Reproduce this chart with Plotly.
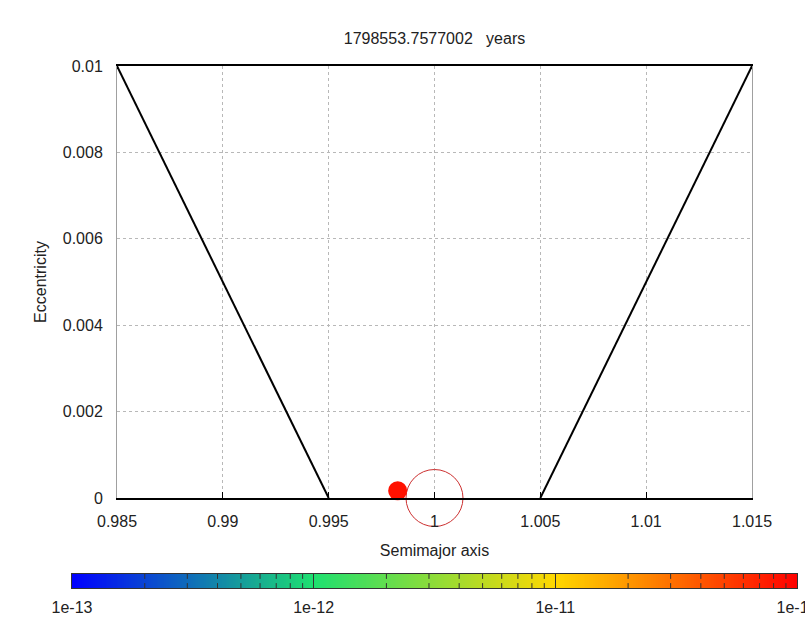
import numpy as np
import plotly.graph_objects as go

# ---- data ----
title_text = "1798553.7577002   years"
boundary_left_a = [0.985, 0.995]
boundary_left_e = [0.01, 0.0]
boundary_right_a = [1.005, 1.015]
boundary_right_e = [0.0, 0.01]
planet_a = [1.0]
planet_e = [0.0]
particle_a = [0.99826]
particle_e = [0.00017]
particle_logval = [-10.08]

x_ticks = [0.985, 0.99, 0.995, 1.0, 1.005, 1.01, 1.015]
x_ticktext = ["0.985", "0.99", "0.995", "1", "1.005", "1.01", "1.015"]
y_ticks = [0, 0.002, 0.004, 0.006, 0.008, 0.01]
y_ticktext = ["0", "0.002", "0.004", "0.006", "0.008", "0.01"]

cb_min, cb_max = -13, -10
cb_major = [-13, -12, -11, -10]
cb_labels = ["1e-13", "1e-12", "1e-11", "1e-10"]
cb_minor = [float(np.log10(k) + n) for n in (-13, -12, -11) for k in range(2, 10)]
colorscale = [[0.0, "#0000ff"], [1/3, "#1ee070"], [2/3, "#ffd800"], [1.0, "#ff0000"]]

gradient = np.linspace(cb_min, cb_max, 400)

FONT = "Liberation Sans, Arial, sans-serif"

fig = go.Figure()

for xa, ye in ((boundary_left_a, boundary_left_e), (boundary_right_a, boundary_right_e)):
    fig.add_trace(go.Scatter(x=xa, y=ye, mode="lines",
                             line=dict(color="black", width=2),
                             showlegend=False, hoverinfo="skip", cliponaxis=False))

fig.add_trace(go.Scatter(x=planet_a, y=planet_e, mode="markers",
                         marker=dict(symbol="circle-open", size=57,
                                     line=dict(color="#cc3030", width=1), color="#cc3030"),
                         showlegend=False, cliponaxis=False))

fig.add_trace(go.Scatter(x=particle_a, y=particle_e, mode="markers",
                         marker=dict(size=19, color=particle_logval, colorscale=colorscale,
                                     cmin=cb_min, cmax=cb_max, showscale=False,
                                     line=dict(width=0)),
                         showlegend=False, cliponaxis=False))

# colour bar drawn as a heatmap strip
fig.add_trace(go.Heatmap(x=gradient, y=[0.5], z=[gradient], colorscale=colorscale,
                         zmin=cb_min, zmax=cb_max, showscale=False,
                         xaxis="x2", yaxis="y2", hoverinfo="skip"))

# minor ticks of the colour bar (top and bottom edges)
for edge in (0, 1):
    fig.add_trace(go.Scatter(x=cb_minor, y=[edge] * len(cb_minor), mode="markers",
                             marker=dict(symbol="line-ns-open", size=7, color="#333333",
                                         line=dict(color="#333333", width=1)),
                             xaxis="x2", yaxis="y2", showlegend=False,
                             hoverinfo="skip", cliponaxis=True))

W, H = 805, 622
ml, mr, mt, mb = 72, 8, 66, 34
pw = W - ml - mr
ph = H - mt - mb
x0, x1 = 117, 752
y_bottom = 498
cb_top, cb_bot = 574, 588

fig.update_layout(
    width=W, height=H,
    margin=dict(l=ml, r=mr, t=mt, b=mb, autoexpand=False),
    paper_bgcolor="white", plot_bgcolor="white",
    font=dict(family=FONT, size=16, color="#222222"),
    title=dict(text=title_text, x=((x0 + x1) / 2) / W, xanchor="center",
               y=1 - 38 / H, yanchor="middle", font=dict(size=16, family=FONT)),
    xaxis=dict(domain=[(x0 - ml) / pw, (x1 - ml) / pw], range=[0.985, 1.015],
               tickvals=x_ticks, ticktext=x_ticktext,
               ticks="inside", ticklen=6, tickcolor="black",
               showline=True, linecolor="black", linewidth=1.5, mirror=True,
               showgrid=True, gridcolor="#b8b8b8", griddash="dot", gridwidth=1,
               zeroline=False, ticklabelstandoff=8, automargin=False,
               title=dict(text="Semimajor axis", standoff=16, font=dict(size=16)),
               anchor="y"),
    yaxis=dict(domain=[(H - mb - y_bottom) / ph, 1], range=[0, 0.01],
               tickvals=y_ticks, ticktext=y_ticktext,
               ticks="", showline=True, linecolor="#a0a0a0", linewidth=1, mirror=True,
               showgrid=True, gridcolor="#b8b8b8", griddash="dot", gridwidth=1,
               zeroline=False, ticklabelstandoff=10, automargin=False,
               title=dict(text="Eccentricity", standoff=12, font=dict(size=16)),
               anchor="x"),
    xaxis2=dict(domain=[0, 1], range=[cb_min, cb_max], anchor="y2",
                tickvals=cb_major, ticktext=cb_labels,
                ticks="inside", ticklen=14, tickcolor="#333333", tickwidth=1,
                showline=True, linecolor="#333333", linewidth=1, mirror=True,
                showgrid=False, zeroline=False, ticklabelstandoff=5, automargin=False,
                ticklabeloverflow="allow"),
    yaxis2=dict(domain=[0, (cb_bot - cb_top) / ph], range=[0, 1], anchor="x2",
                showticklabels=False, ticks="", showline=True, linecolor="#333333",
                linewidth=1, mirror=True, showgrid=False, zeroline=False, automargin=False),
)

fig.write_html("out.html")
